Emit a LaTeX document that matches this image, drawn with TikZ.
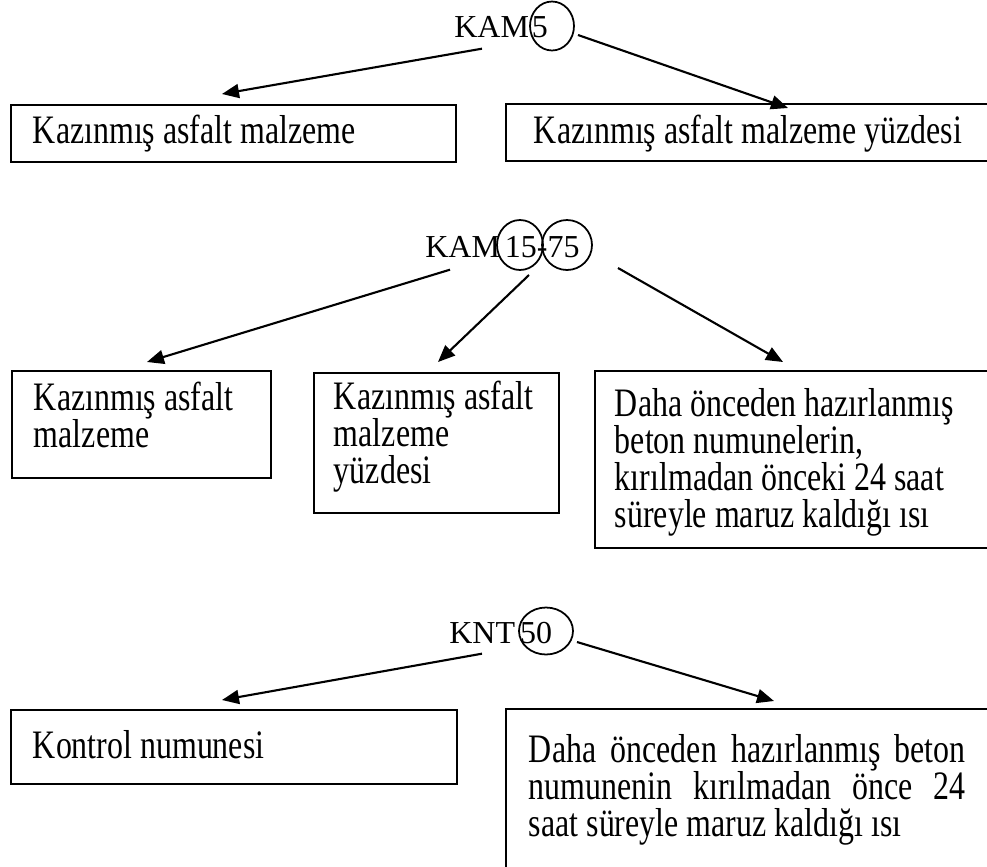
\documentclass[tikz,border=0pt]{standalone}
\usepackage{fontspec}
\usepackage{graphicx}
\setmainfont{Liberation Serif}
\usetikzlibrary{arrows.meta,calc,shapes}
\newcommand{\boxtext}[2]{\scalebox{0.79}[1]{\parbox[t]{#1}{\raggedright #2}}}
\newcommand{\boxjust}[2]{\scalebox{0.79}[1]{\parbox[t]{#1}{#2}}}

\begin{document}
\begin{tikzpicture}[x=0.02cm,y=-0.02cm,
 every node/.style={font=\fontsize{18.2}{21.35}\selectfont},
 lbl/.style={anchor=base west,inner sep=0pt},
 ring/.style={ellipse,draw,line width=1pt,inner sep=0pt},
 box/.style={draw,line width=1.1pt,anchor=north west,inner xsep=0.44cm,inner ysep=0pt,
  font=\fontsize{23}{21}\selectfont,
  execute at begin node={\tolerance=10000\relax\hyphenpenalty=10000\relax}},
 arr/.style={line width=1.2pt,-{Triangle[length=0.34cm,width=0.28cm]}}]
 \useasboundingbox (0,0) rectangle (987,866);
 \clip (0,0) rectangle (987,866);

 % KAM5
 \node[lbl] (kamA) at (454,37) {KAM\kern0.06cm5};
 \node[ring,minimum width=0.88cm,minimum height=0.98cm] (ringA) at (552,26) {};
 \node[box,text height=0.78cm,text depth=0.36cm] (boxA1) at (10,104) {\boxtext{10.15cm}{Kazınmış asfalt malzeme}};
 \node[box,inner xsep=0.56cm,text height=0.8cm,text depth=0.34cm] (boxA2) at (505,103) {\boxtext{10.99cm}{Kazınmış asfalt malzeme yüzdesi}};
 \draw[arr] ($(kamA.south west)+(28,11)$) -- ($(boxA1.north west)+(212,-10)$);
 \draw[arr] ($(ringA.center)+(26,9)$) -- ($(boxA2.north west)+(283,5)$);

 % KAM15-75
 \node[lbl] (kamB) at (425,257) {KAM\kern0.1cm15-75};
 \node[ring,minimum width=0.92cm,minimum height=1cm] (ring15) at (520,245) {};
 \node[ring,minimum width=1cm,minimum height=1cm] (ring75) at (567,245) {};
 \node[box,text height=0.8cm,text depth=1.34cm] (boxB1) at (11,370) {\boxtext{5.44cm}{Kazınmış asfalt\\malzeme}};
 \node[box,inner xsep=0.4cm,text height=0.74cm,text depth=2.06cm] (boxB2) at (313,372) {\boxtext{5.19cm}{\mbox{Kazınmış asfalt}\\malzeme\\yüzdesi}};
 \node[box,inner xsep=0.4cm,text height=0.92cm,text depth=2.62cm] (boxB3) at (594,370) {\boxtext{9.14cm}{Daha önceden hazırlanmış\\beton numunelerin,\\kırılmadan önceki 24 saat\\süreyle maruz kaldığı ısı}};
 \draw[arr] ($(kamB.south west)+(25,12)$) -- ($(boxB1.north west)+(136,-8)$);
 \draw[arr] ($(ring15.center)+(9,30)$) -- ($(boxB2.north west)+(125,-10)$);
 \draw[arr] ($(ring75.center)+(51,23)$) -- ($(boxB3.north west)+(189,-8)$);

 % KNT50
 \node[lbl] (kntC) at (449,643) {KNT\kern0.1cm50};
 \node[ring,minimum width=1.08cm,minimum height=0.94cm] (ring50) at (546,631) {};
 \node[box,text height=0.98cm,text depth=0.5cm] (boxC1) at (10,709) {\boxtext{10.18cm}{Kontrol numunesi}};
 \node[box,inner xsep=0.46cm,text height=1.08cm,text depth=2.8cm] (boxC2) at (505,708)
  {\boxjust{11.06cm}{Daha önceden hazırlanmış beton numunenin kırılmadan önce 24 saat süreyle maruz kaldığı ısı}};
 \draw[arr] ($(kntC.south west)+(33,10)$) -- ($(boxC1.north west)+(212,-9)$);
 \draw[arr] ($(ring50.center)+(31,11)$) -- ($(boxC2.north west)+(269,-7)$);
\end{tikzpicture}
\end{document}
